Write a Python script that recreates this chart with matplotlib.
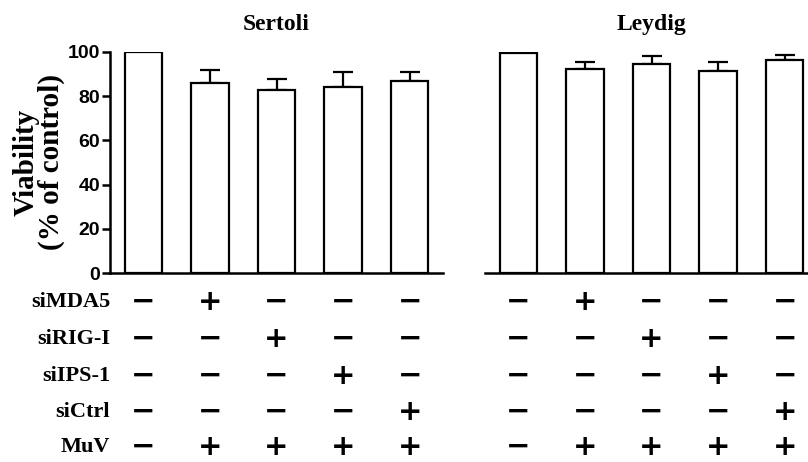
import matplotlib.pyplot as plt
import matplotlib.transforms as mtrans
import numpy as np

# Data
panels = ['Sertoli', 'Leydig']
sertoli_mean = [100, 86, 83, 84, 87]
sertoli_err = [0, 6, 5, 7, 4]
leydig_mean = [99.5, 92.5, 94.5, 91.5, 96.5]
leydig_err = [0, 3, 3.5, 4, 2]

row_labels = ['siMDA5', 'siRIG-I', 'siIPS-1', 'siCtrl', 'MuV']
signs = [
    ['-', '+', '-', '-', '-'],
    ['-', '-', '+', '-', '-'],
    ['-', '-', '-', '+', '-'],
    ['-', '-', '-', '-', '+'],
    ['-', '+', '+', '+', '+'],
]
yticks = [0, 20, 40, 60, 80, 100]

fig = plt.figure(figsize=(8.08, 4.62), dpi=100)
ax1 = fig.add_axes([110 / 808, 1 - 273 / 462, 333 / 808, 221 / 462])
ax2 = fig.add_axes([485 / 808, 1 - 273 / 462, 333 / 808, 221 / 462])

x = np.arange(5)
width = 0.56
row_y = [302, 339, 376, 412, 447]

for ax, title, means, errs in [(ax1, panels[0], sertoli_mean, sertoli_err),
                               (ax2, panels[1], leydig_mean, leydig_err)]:
    ax.errorbar(x, means, yerr=[np.zeros(5), errs], fmt='none', ecolor='black',
                elinewidth=1.6, capsize=7, capthick=1.6, zorder=1)
    ax.bar(x, means, width, color='white', edgecolor='black', linewidth=1.6, zorder=2)
    ax.set_xlim(-0.5, 4.5)
    ax.set_ylim(0, 100)
    ax.set_xticks([])
    for s in ['top', 'right']:
        ax.spines[s].set_visible(False)
    ax.spines['bottom'].set_linewidth(1.8)
    ax.spines['left'].set_linewidth(1.8)
    ax.set_title(title, fontsize=17, fontweight='bold', family='Liberation Serif', pad=16)
    # +/- table under each panel
    blend = mtrans.blended_transform_factory(ax.transData, fig.transFigure)
    for r, row in enumerate(signs):
        for i, s in enumerate(row):
            ax.text(x[i], 1 - row_y[r] / 462, '+' if s == '+' else '\u2212',
                    transform=blend, ha='center', va='center', fontsize=21,
                    fontweight='bold', family='DejaVu Sans', clip_on=False)

ax1.set_yticks(yticks)
ax1.tick_params(axis='y', length=6, width=1.8, labelsize=14, pad=1)
for lab in ax1.get_yticklabels():
    lab.set_fontweight('bold')
    lab.set_family('Liberation Sans')
ax1.set_ylabel('Viability\n(% of control)', fontsize=21, fontweight='bold',
               family='Liberation Serif', linespacing=0.9, labelpad=2)

ax2.spines['left'].set_visible(False)
ax2.set_yticks([])

for r, lab in enumerate(row_labels):
    fig.text(110 / 808, 1 - row_y[r] / 462, lab, ha='right', va='center', fontsize=16,
             fontweight='bold', family='Liberation Serif')

fig.savefig('out.png', dpi=100)
